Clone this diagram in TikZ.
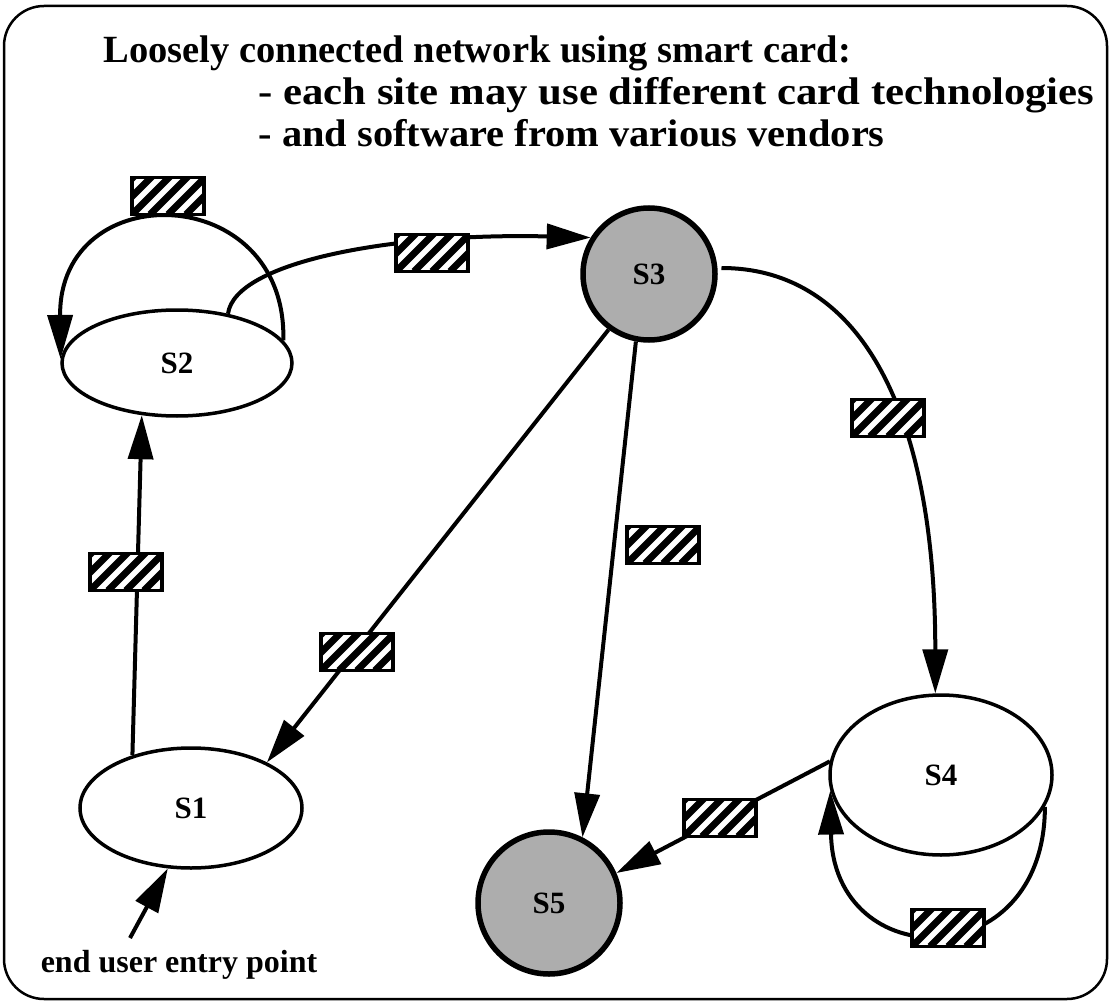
\documentclass[tikz,border=0pt]{standalone}
\usepackage{fontspec}
\setmainfont{Liberation Serif}
\usetikzlibrary{arrows.meta,shapes.geometric}

\begin{document}
\begin{tikzpicture}[x=1pt,y=-1pt,
  titletext/.style={anchor=base west, font=\fontsize{38.5}{44}\selectfont\bfseries},
  site/.style={ellipse, draw, line width=3.5pt, inner sep=0pt, font=\fontsize{31}{34}\selectfont\bfseries},
  hub/.style={circle, draw, line width=5.5pt, fill=black!32, inner sep=0pt, font=\fontsize{31}{34}\selectfont\bfseries},
  link/.style={line width=4pt, -{Triangle[length=44pt,width=25pt]}},
  hatchbox/.style={draw, line width=3.5pt, fill=white, minimum width=72pt, minimum height=37pt, inner sep=0pt,
    path picture={\foreach \k in {-4,...,4}{\draw[line width=7pt] ([xshift=\k*18pt]path picture bounding box.south west) -- ++(50pt,50pt);}}}
]
\useasboundingbox (0,0) rectangle (1111,1003);

% frame
\draw[line width=2.5pt, rounded corners=40pt] (4,6) rectangle (1107,999);

% heading
\node[titletext] (t1) at (100,63) {Loosely connected network using smart card:};
\node[titletext] (t2) at (255,105) {\scalebox{1.11}[1]{- each site may use different card technologies}};
\node[titletext] (t3) at (255,147) {\scalebox{1.05}[1]{- and software from various vendors}};

% sites
\node[site, minimum width=230pt, minimum height=106pt] (s2) at (177,363) {S2};
\node[site, minimum width=222pt, minimum height=120pt] (s1) at (191,808) {S1};
\node[site, minimum width=222pt, minimum height=160pt] (s4) at (941,775) {S4};
\node[hub, minimum size=132pt] (s3) at (649,274) {S3};
\node[hub, minimum size=142pt] (s5) at (549,903) {S5};

% entry point
\node[anchor=base, font=\fontsize{32}{36}\selectfont\bfseries] (entry) at (179,972) {end user entry point};
\coordinate (entrytail) at (130,938);

% connections
\draw[link] (s1.138) -- (s2.236);
\draw[link] (s3.234) -- (s1.31);
\draw[link] (s3.259) -- (s5.63);
\draw[link] (s4.173) -- (s5.24);
\draw[link] ([xshift=4pt]s3.5) .. controls +(140,0) and +(0,-280) .. (s4.94);
\draw[link] (s2.44) .. controls +(7,-53) and +(-193,-5) .. (s3.148);
\draw[link] (s2.12) .. controls +(4,-160) and +(-2,-184) .. (s2.178);
\draw[link] (s4.343) .. controls +(0,170) and +(3,185) .. (s4.188);
\draw[link] (entrytail) -- (s1.249);

% cards in transit
\node[hatchbox] (c1) at (168,196) {};
\node[hatchbox] (c2) at (432,253) {};
\node[hatchbox] (c3) at (888,418) {};
\node[hatchbox] (c4) at (663,545) {};
\node[hatchbox] (c5) at (357,652) {};
\node[hatchbox] (c6) at (126,572) {};
\node[hatchbox] (c7) at (720,818) {};
\node[hatchbox] (c8) at (948,928) {};
\end{tikzpicture}
\end{document}
